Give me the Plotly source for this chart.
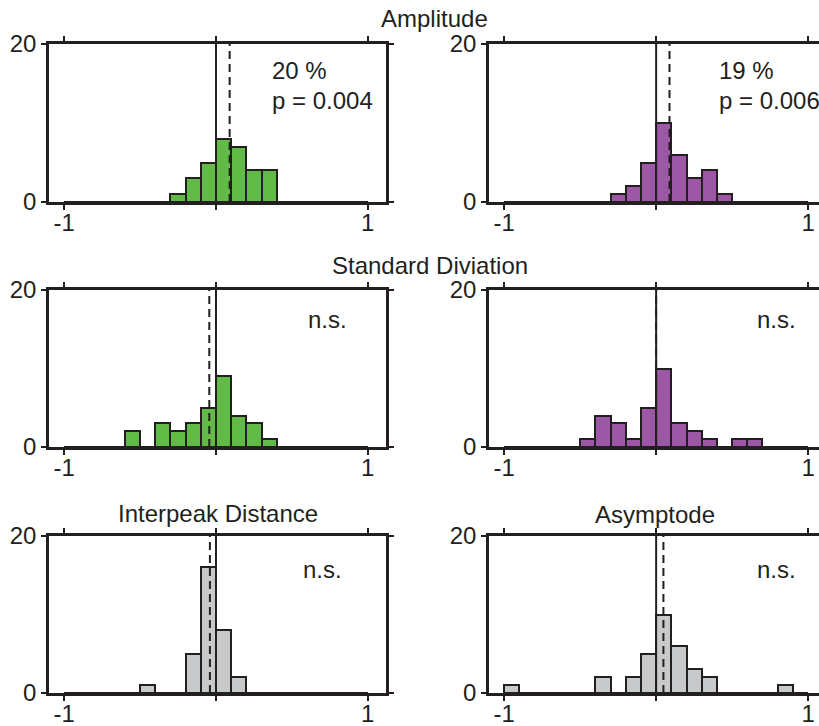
import plotly.graph_objects as go

# ---------------- data ----------------
# histogram bins: left edges from -1.0 to 0.9, width 0.1
bin_left = [-1.0 + 0.1 * i for i in range(20)]
bin_width = 0.1

amp_green   = [0, 0, 0, 0, 0, 0, 0, 1, 3, 5, 8, 7, 4, 4, 0, 0, 0, 0, 0, 0]
amp_purple  = [0, 0, 0, 0, 0, 0, 0, 1, 2, 5, 10, 6, 3, 4, 1, 0, 0, 0, 0, 0]
sd_green    = [0, 0, 0, 0, 2, 0, 3, 2, 3, 5, 9, 4, 3, 1, 0, 0, 0, 0, 0, 0]
sd_purple   = [0, 0, 0, 0, 0, 1, 4, 3, 1, 5, 10, 3, 2, 1, 0, 1, 1, 0, 0, 0]
ipd_gray    = [0, 0, 0, 0, 0, 1, 0, 0, 5, 16, 8, 2, 0, 0, 0, 0, 0, 0, 0, 0]
asym_gray   = [1, 0, 0, 0, 0, 0, 2, 0, 2, 5, 10, 6, 3, 2, 0, 0, 0, 0, 1, 0]

panel_counts = [amp_green, amp_purple, sd_green, sd_purple, ipd_gray, asym_gray]
panel_means = [0.09, 0.088, -0.044, 0.0, -0.04, 0.048]
zero_ref = 0.0

panel_texts = [["20 %", "p = 0.004"], ["19 %", "p = 0.006"],
               ["n.s."], ["n.s."], ["n.s."], ["n.s."]]
section_titles = ["Amplitude", "Standard Diviation", "Interpeak Distance", "Asymptode"]

x_tick_vals = [-1, 0, 1]
x_tick_text = ["-1", "", "1"]
y_tick_vals = [0, 20]
y_tick_text = ["0", "20"]

# ---------------- style ----------------
GREEN = "#62BB47"
PURPLE = "#9C58A4"
GRAY = "#C8C9CB"
INK = "#231F20"
FONT = "Liberation Sans, Arial, Helvetica, sans-serif"
panel_colors = [GREEN, PURPLE, GREEN, PURPLE, GRAY, GRAY]

W, H = 819, 726
col_px = [(49, 386), (489, 819)]
row_px = [(44, 202), (290, 447), (536, 693)]
x_ranges = [[-1.1, 1.12], [-1.1, 1.072]]

fig = go.Figure()
bin_centers = [b + bin_width / 2 for b in bin_left]

for k in range(6):
    r, c = divmod(k, 2)
    idx = "" if k == 0 else str(k + 1)
    xa, ya = "x" + idx, "y" + idx
    fig.add_trace(go.Bar(
        x=bin_centers, y=panel_counts[k], width=bin_width,
        marker=dict(color=panel_colors[k], line=dict(color=INK, width=2)),
        xaxis=xa, yaxis=ya, showlegend=False, hoverinfo="skip"))
    fig.add_trace(go.Scatter(
        x=[zero_ref, zero_ref], y=[0, 20], mode="lines",
        line=dict(color=INK, width=2), xaxis=xa, yaxis=ya,
        showlegend=False, hoverinfo="skip", cliponaxis=False))
    fig.add_trace(go.Scatter(
        x=[panel_means[k], panel_means[k]], y=[0, 20], mode="lines",
        line=dict(color=INK, width=2, dash="8px,5px"), xaxis=xa, yaxis=ya,
        showlegend=False, hoverinfo="skip"))

    x0, x1 = col_px[c]
    y0, y1 = row_px[r]
    ax_common = dict(showline=True, linewidth=2.5, linecolor=INK,
                     ticks="outside", ticklen=5, tickwidth=2, tickcolor=INK,
                     showgrid=False, zeroline=False, automargin=False,
                     tickfont=dict(family=FONT, size=24, color=INK))
    fig.layout["xaxis" + idx] = dict(
        ax_common, domain=[x0 / W, x1 / W], range=x_ranges[c],
        tickvals=x_tick_vals, ticktext=x_tick_text, anchor=ya,
        mirror="ticks", fixedrange=True, ticklabelstandoff=-8)
    fig.layout["yaxis" + idx] = dict(
        ax_common, domain=[1 - y1 / H, 1 - y0 / H], range=[0, 20],
        tickvals=y_tick_vals, ticktext=y_tick_text, anchor=xa,
        mirror=("ticks" if c == 0 else False), fixedrange=True)

    # panel texts
    tx = 0.353 if k == 0 else (0.40 if k == 1 else (0.595 if k == 2 else (0.56 if k == 4 else 0.65)))
    if len(panel_texts[k]) == 2:
        ys = [16.6, 12.9]
    else:
        ys = [16.2] if r == 1 else [15.7]
    for t, yy in zip(panel_texts[k], ys):
        fig.add_annotation(x=tx, y=yy, xref=xa, yref=ya, text=t,
                           showarrow=False, xanchor="left", yanchor="middle",
                           font=dict(family=FONT, size=24, color=INK))

title_pos = [(434, 19), (430, 265.5), (217.5, 513.5), (655, 514)]
for t, (px, py) in zip(section_titles, title_pos):
    fig.add_annotation(x=px / W, y=1 - py / H, xref="paper", yref="paper",
                       text=t, showarrow=False, xanchor="center", yanchor="middle",
                       font=dict(family=FONT, size=24, color=INK))

fig.update_layout(width=W, height=H, margin=dict(l=0, r=0, t=0, b=0),
                  paper_bgcolor="white", plot_bgcolor="white",
                  bargap=0, font=dict(family=FONT, size=24, color=INK))

fig.write_html("out.html", config={"displayModeBar": False})
